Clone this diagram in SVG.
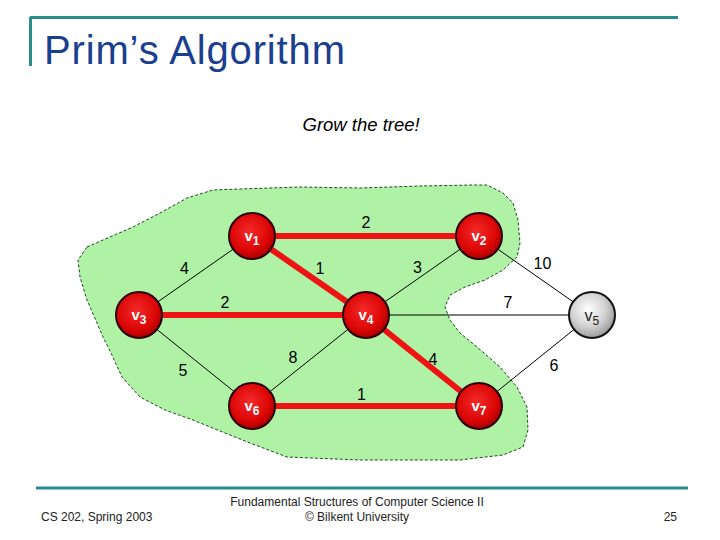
<svg xmlns="http://www.w3.org/2000/svg" width="720" height="540" viewBox="0 0 720 540">
<defs>
<radialGradient id="gRed" cx="45%" cy="40%" r="60%">
<stop offset="0%" stop-color="#f42a2a"/>
<stop offset="70%" stop-color="#dc0606"/>
<stop offset="100%" stop-color="#a80000"/>
</radialGradient>
<radialGradient id="gGray" cx="42%" cy="38%" r="62%">
<stop offset="0%" stop-color="#ffffff"/>
<stop offset="60%" stop-color="#d2d2d2"/>
<stop offset="100%" stop-color="#9c9c9c"/>
</radialGradient>
<style>
.bar{stroke:#2a8c8c;stroke-width:3;fill:none}
.title{font-family:"Liberation Sans",Arial,sans-serif;font-size:40px;fill:#1b3f8f}
.foot{font-family:"Liberation Sans",Arial,sans-serif;font-size:12px;fill:#222}
.thin{stroke:#000;stroke-width:1;fill:none}
.thick{stroke:#ee1414;stroke-width:6;fill:none}
.w{font-family:"Liberation Sans",Arial,sans-serif;font-size:16px;fill:#000;text-anchor:middle}
.red{fill:url(#gRed);stroke:#2a0000;stroke-width:2}
.gray{fill:url(#gGray);stroke:#111;stroke-width:2}
.lr{font-family:"Liberation Sans",Arial,sans-serif;font-size:15px;font-weight:bold;fill:#fff}
.lg{font-family:"Liberation Sans",Arial,sans-serif;font-size:16px;fill:#222}
.sub{font-size:12px}
</style>
</defs>
<rect width="720" height="540" fill="#fff"/>
<g id="header">
<path class="bar" d="M30 17.5H678M30.5 17V66"/>
<text class="title" x="44" y="64" textLength="301">Prim’s Algorithm</text>
</g>
<text id="subtitle" x="302.5" y="131" font-family="'Liberation Sans',Arial,sans-serif" font-size="18.5" font-style="italic" fill="#000">Grow the tree!</text>
<path id="tree-region" d="M87 247L103 240L133 227L160 213L187 198L213 190L240 189L300 187L360 188L420 186L473 185L487 185L503 193L513 203L518 220L520 243L517 257L503 270L485 280L465 287L450 295L445 307L450 320L460 333L477 347L500 367L517 387L527 407L528 430L523 447L503 455L460 460L400 460L360 460L287 457L250 443L210 427L193 420L165 410L140 397L122 377L111 353L103 337L97 323L87 300L80 277L78 260Z" fill="#aff2a5" stroke="#1e4a1e" stroke-width="1" stroke-dasharray="3,2"/>
<g id="connectors">
<line class="thin" x1="252" y1="236" x2="139" y2="315"/>
<line class="thin" x1="479" y1="236" x2="366" y2="315"/>
<line class="thin" x1="479" y1="236" x2="592" y2="315"/>
<line class="thin" x1="366" y1="315" x2="592" y2="315"/>
<line class="thin" x1="139" y1="315" x2="252" y2="406"/>
<line class="thin" x1="366" y1="315" x2="252" y2="406"/>
<line class="thin" x1="592" y1="315" x2="479" y2="406"/>
<line class="thick" x1="252" y1="236" x2="479" y2="236"/>
<line class="thick" x1="252" y1="236" x2="366" y2="315"/>
<line class="thick" x1="139" y1="315" x2="366" y2="315"/>
<line class="thick" x1="366" y1="315" x2="479" y2="406"/>
<line class="thick" x1="252" y1="406" x2="479" y2="406"/>
<text class="w" x="366" y="228">2</text>
<text class="w" x="184.5" y="274">4</text>
<text class="w" x="320" y="274">1</text>
<text class="w" x="417.5" y="273">3</text>
<text class="w" x="542.5" y="269">10</text>
<text class="w" x="225" y="307.5">2</text>
<text class="w" x="508" y="307.5">7</text>
<text class="w" x="183" y="376">5</text>
<text class="w" x="293" y="363">8</text>
<text class="w" x="433" y="365">4</text>
<text class="w" x="361.5" y="400">1</text>
<text class="w" x="554" y="371">6</text>
</g>
<g id="v1"><circle class="red" cx="252" cy="236" r="23"/><text class="lr" x="244.5" y="241">v<tspan class="sub" dy="4">1</tspan></text></g>
<g id="v2"><circle class="red" cx="479" cy="236" r="23"/><text class="lr" x="471.5" y="241">v<tspan class="sub" dy="4">2</tspan></text></g>
<g id="v3"><circle class="red" cx="139" cy="315" r="23"/><text class="lr" x="131.5" y="320">v<tspan class="sub" dy="4">3</tspan></text></g>
<g id="v4"><circle class="red" cx="366" cy="315" r="23"/><text class="lr" x="358.5" y="320">v<tspan class="sub" dy="4">4</tspan></text></g>
<g id="v5"><circle class="gray" cx="592" cy="315" r="23"/><text class="lg" x="584.5" y="321">v<tspan class="sub" dy="4">5</tspan></text></g>
<g id="v6"><circle class="red" cx="252" cy="406" r="23"/><text class="lr" x="244.5" y="411">v<tspan class="sub" dy="4">6</tspan></text></g>
<g id="v7"><circle class="red" cx="479" cy="406" r="23"/><text class="lr" x="471.5" y="411">v<tspan class="sub" dy="4">7</tspan></text></g>
<g id="footer">
<path class="bar" d="M36 488H688"/>
<text class="foot" x="41" y="521">CS 202, Spring 2003</text>
<text class="foot" x="357" y="506" text-anchor="middle">Fundamental Structures of Computer Science II</text>
<text class="foot" x="357" y="521" text-anchor="middle">© Bilkent University</text>
<text class="foot" x="677" y="521" text-anchor="end">25</text>
</g>
</svg>
